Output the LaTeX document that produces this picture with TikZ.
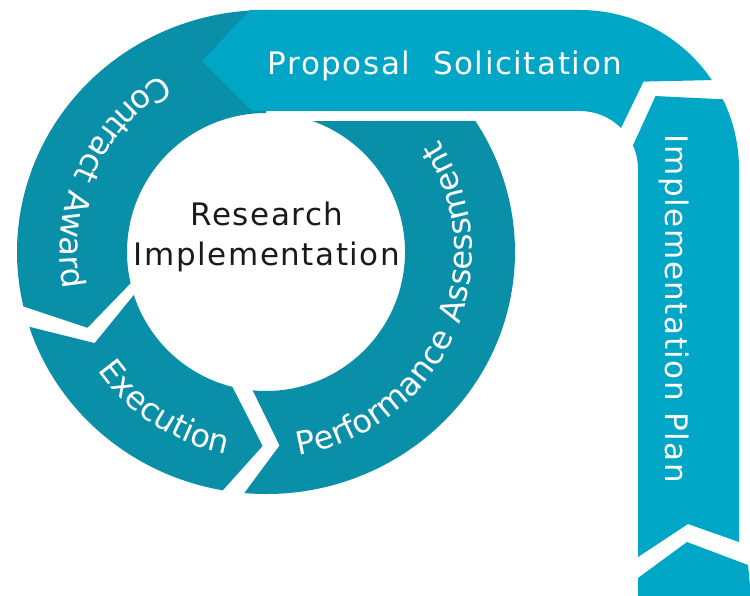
\documentclass[tikz,border=0pt]{standalone}
\usepackage{fontspec}
\setmainfont{DejaVu Sans}
\newfontfamily\cyclefont[LetterSpace=5]{DejaVu Sans}
\newfontfamily\ringfamily[LetterSpace=9]{DejaVu Sans}
\usetikzlibrary{decorations.text}
\definecolor{cycle-teal}{HTML}{0A8FA9}
\definecolor{cycle-cyan}{HTML}{00A6C6}
\definecolor{cycle-ink}{HTML}{1A1A1A}
\newlength{\basisresearchcycle}
\setlength{\basisresearchcycle}{1pt}
\newcommand{\ringlabelfont}{\ringfamily\fontsize{32}{38}\selectfont}

\begin{document}
\begin{tikzpicture}[
    ringsegment/.style={fill=cycle-teal},
    ribbonsegment/.style={fill=cycle-cyan},
    ringlabel/.style={decorate, decoration={text along path, text align=center, text color=white, text={|\ringlabelfont|#1}}}
  ]
    \useasboundingbox (0,0) rectangle (750\basisresearchcycle,595\basisresearchcycle);

    \coordinate (ring-centre) at (266\basisresearchcycle,343\basisresearchcycle);
    \coordinate (ribbon-bend) at (580\basisresearchcycle,426\basisresearchcycle);

    % the three steps of the ring
    \begin{scope}[shift={(ring-centre)}]
        \fill[ringsegment] (canvas polar cs:angle=85, x radius=249\basisresearchcycle, y radius=242\basisresearchcycle)
            arc[start angle=85, end angle=193, x radius=249\basisresearchcycle, y radius=242\basisresearchcycle]
            -- (203:194\basisresearchcycle) -- (193:139\basisresearchcycle)
            arc[start angle=193, end angle=90, radius=139\basisresearchcycle] -- cycle;

        \fill[ringsegment] (canvas polar cs:angle=198, x radius=249\basisresearchcycle, y radius=242\basisresearchcycle)
            arc[start angle=198, end angle=260, x radius=249\basisresearchcycle, y radius=242\basisresearchcycle]
            -- (269:194\basisresearchcycle) -- (256:139\basisresearchcycle)
            arc[start angle=256, end angle=198, radius=139\basisresearchcycle]
            -- (208:194\basisresearchcycle) -- cycle;

        \fill[ringsegment] (canvas polar cs:angle=265, x radius=249\basisresearchcycle, y radius=242\basisresearchcycle)
            arc[start angle=265, end angle=392.8, x radius=249\basisresearchcycle, y radius=242\basisresearchcycle]
            -- (70.4:139\basisresearchcycle)
            arc[start angle=70.4, end angle=-95.5, radius=139\basisresearchcycle]
            -- (274:194\basisresearchcycle) -- cycle;

        \path[ringlabel={Contract Award}] (95:206\basisresearchcycle)
            arc[start angle=95, end angle=216, radius=206\basisresearchcycle];
        \path[ringlabel={Execution}] (177:206\basisresearchcycle)
            arc[start angle=177, end angle=297, radius=206\basisresearchcycle];
        \path[ringlabel={Performance Assessment}] (256:206\basisresearchcycle)
            arc[start angle=256, end angle=416, radius=206\basisresearchcycle];
    \end{scope}

    % the bent ribbon on the right
    \fill[ribbonsegment] (202\basisresearchcycle,534\basisresearchcycle) -- (250\basisresearchcycle,585\basisresearchcycle)
        -- ([shift={(90:159\basisresearchcycle)}]ribbon-bend)
        arc[start angle=90, end angle=34, radius=159\basisresearchcycle]
        -- ([shift={(54:108\basisresearchcycle)}]ribbon-bend) -- ([shift={(45:58\basisresearchcycle)}]ribbon-bend)
        arc[start angle=45, end angle=90, radius=58\basisresearchcycle]
        -- (252\basisresearchcycle,484\basisresearchcycle) -- cycle;

    \fill[ribbonsegment] ([shift={(26:159\basisresearchcycle)}]ribbon-bend)
        arc[start angle=26, end angle=0, radius=159\basisresearchcycle]
        -- (739\basisresearchcycle,53\basisresearchcycle) -- (688\basisresearchcycle,71\basisresearchcycle)
        -- (638\basisresearchcycle,38\basisresearchcycle) -- ([shift={(0:58\basisresearchcycle)}]ribbon-bend)
        arc[start angle=0, end angle=24, radius=58\basisresearchcycle]
        -- ([shift={(44:105\basisresearchcycle)}]ribbon-bend) -- cycle;

    \fill[ribbonsegment] (638\basisresearchcycle,17\basisresearchcycle) -- (687\basisresearchcycle,53\basisresearchcycle)
        -- (748\basisresearchcycle,30\basisresearchcycle) -- (752\basisresearchcycle,-10\basisresearchcycle)
        -- (638\basisresearchcycle,-10\basisresearchcycle) -- cycle;

    \draw (267\basisresearchcycle,358\basisresearchcycle)
        node[align=center, inner sep=0pt, text=cycle-ink, font=\cyclefont\fontsize{31}{40}\selectfont]
            (research-implementation) {Research\\Implementation};

    \draw (445\basisresearchcycle,520\basisresearchcycle)
        node[anchor=base, inner sep=0pt, text=white, font=\cyclefont\fontsize{31}{37}\selectfont]
            (proposal-solicitation) {Proposal~ Solicitation};

    \draw (665\basisresearchcycle,286\basisresearchcycle)
        node[anchor=base, rotate=-90, inner sep=0pt, text=white, font=\cyclefont\fontsize{31}{37}\selectfont]
            (implementation-plan) {Implementation Plan};
\end{tikzpicture}
\end{document}
